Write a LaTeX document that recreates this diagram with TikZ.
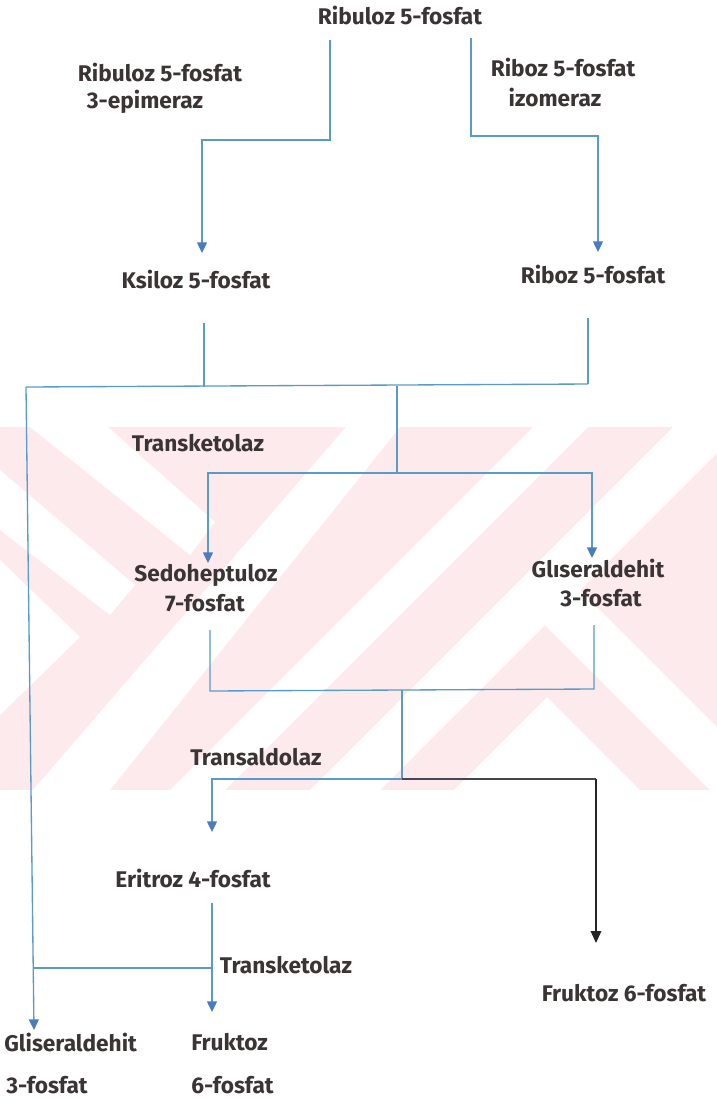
\documentclass[tikz,border=0pt]{standalone}
\usepackage{fontspec}
\setmainfont{Fira Sans}
\usetikzlibrary{arrows.meta}
\definecolor{wmpink}{RGB}{253,234,237}
\definecolor{lineblue}{RGB}{90,155,200}
\definecolor{tipblue}{RGB}{75,125,190}
\definecolor{txt}{RGB}{58,52,52}
\definecolor{darkline}{RGB}{70,70,80}
\tikzset{
  lbl/.style={inner sep=0pt, text=txt, font=\fontsize{17}{20}\selectfont\bfseries},
  conn/.style={draw=lineblue, line width=1pt},
  arr/.style={conn, -{Triangle[width=7.5pt,length=8pt,color=tipblue]}},
  blackarr/.style={draw=black!85, line width=1pt, -{Triangle[width=8pt,length=9pt]}},
}
\begin{document}
\begin{tikzpicture}[x=0.75pt,y=-0.75pt]
\useasboundingbox (0,0) rectangle (717,1101);
\fill[white] (0,0) rectangle (717,1101);
% watermark band
\begin{scope}
  \clip (0,427) rectangle (717,790);
  \fill[wmpink] (0,427) rectangle (717,790);
  \fill[white] (346,427) -- (400,427) -- (110,790) -- (33,790) -- cycle;
  \fill[white] (533,427) -- (588,427) -- (225,790) -- (170,790) -- cycle;
  \fill[white] (673,427) -- (743,427) -- (380,790) -- (310,790) -- cycle;
  \fill[white] (580,590) -- (545,625) -- (780,860) -- (780,790) -- cycle;
  \fill[white] (547,697) -- (640,790) -- (454,790) -- cycle;
  \fill[white] (30,427) -- (108,427) -- (215,522) -- (190,555) -- cycle;
  \fill[white] (0,470) -- (135,585) -- (110,615) -- (0,530) -- cycle;
  \fill[white] (0,560) -- (80,637) -- (0,715) -- cycle;
\end{scope}

% texts
\node[lbl] (ru5p) at (400,15) {Ribuloz 5-fosfat};
\node[lbl] (epiA) at (160,72) {Ribuloz 5-fosfat};
\node[lbl] (epiB) at (145,102) {3-epimeraz};
\node[lbl] (isoA) at (563,67) {Riboz 5-fosfat};
\node[lbl] (isoB) at (555,97) {izomeraz};
\node[lbl] (xu5p) at (196,279) {Ksiloz 5-fosfat};
\node[lbl] (r5p) at (593,274) {Riboz 5-fosfat};
\node[lbl] (tk1) at (198,443) {Transketolaz};
\node[lbl] (s7pA) at (206,575) {Sedoheptuloz};
\node[lbl] (s7pB) at (205,603) {7-fosfat};
\node[lbl] (g3pA) at (598,568) {Glıseraldehit};
\node[lbl] (g3pB) at (601,598) {3-fosfat};
\node[lbl] (ta) at (256,757) {Transaldolaz};
\node[lbl] (e4p) at (193,878) {Eritroz 4-fosfat};
\node[lbl] (tk2) at (286,965) {Transketolaz};
\node[lbl, anchor=west] (g3bA) at (4,1042) {Gliseraldehit};
\node[lbl, anchor=west] (g3bB) at (6,1085) {3-fosfat};
\node[lbl, anchor=west] (f6bA) at (191,1042) {Fruktoz};
\node[lbl, anchor=west] (f6bB) at (191,1085) {6-fosfat};
\node[lbl] (f6p) at (624,993) {Fruktoz 6-fosfat};

% coordinates
\coordinate (a1) at (330,40);
\coordinate (a2) at (202,140);
\coordinate (a3) at (202,253);
\coordinate (b1) at (471,38);
\coordinate (b2) at (598,136);
\coordinate (b3) at (598,252);
\coordinate (k1) at (204,323);
\coordinate (k2) at (204,387);
\coordinate (r1) at (588,318);
\coordinate (r2) at (588,384);
\coordinate (jl) at (26,387);
\coordinate (gl) at (34,1030);
\coordinate (m1) at (397,386);
\coordinate (m2) at (397,473);
\coordinate (st) at (208,563);
\coordinate (gt) at (592,558);
\coordinate (s1) at (210,630);
\coordinate (s2) at (210,691);
\coordinate (g1) at (594,625);
\coordinate (g2) at (594,689);
\coordinate (n1) at (402,690);
\coordinate (n2) at (402,779);
\coordinate (et) at (212,832);
\coordinate (nr) at (596,779);
\coordinate (ft) at (596,943);
\coordinate (e1) at (212,903);
\coordinate (e2) at (212,1012);
\coordinate (h1) at (33,968);
\coordinate (h2) at (212,968);

% connectors
\draw[arr] (a1) |- (a2) -- (a3);
\draw[arr] (b1) |- (b2) -- (b3);
\draw[conn] (k1) -- (k2);
\draw[conn] (r1) -- (r2);
\draw[conn] (jl) -- (r2);
\draw[arr] (jl) -- (gl);
\draw[conn] (m1) -- (m2);
\draw[arr] (m2) -| (st);
\draw[arr] (m2) -| (gt);
\draw[conn] (s1) -- (s2) -- (g2) -- (g1);
\draw[conn] (n1) -- (n2);
\draw[arr] (n2) -| (et);
\draw[draw=darkline, line width=1pt] (n2) -- (nr);
\draw[blackarr] (nr) -- (ft);
\draw[arr] (e1) -- (e2);
\draw[conn] (h1) -- (h2);
\end{tikzpicture}
\end{document}
